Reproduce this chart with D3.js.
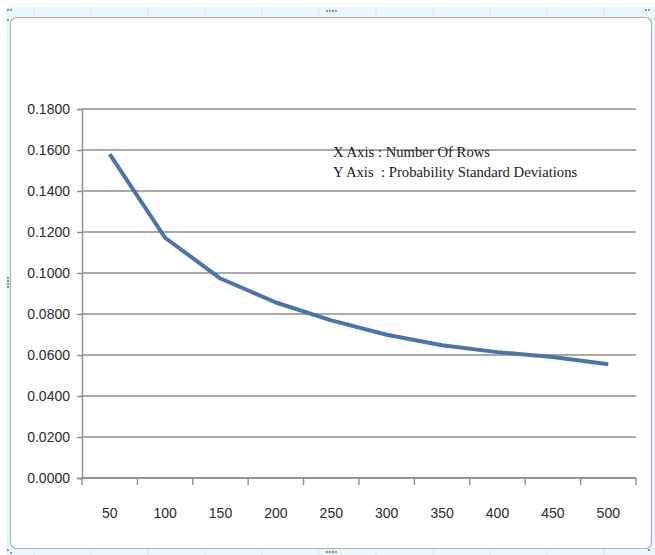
<!DOCTYPE html>
<html>
<head>
<meta charset="utf-8">
<script src="https://cdn.jsdelivr.net/npm/d3@7"></script>
<style>
  html, body { margin: 0; padding: 0; background: #ffffff; }
  svg { display: block; }
</style>
</head>
<body>
<svg id="chart" width="655" height="555"></svg>
<script>
// Number of rows sampled and the resulting probability standard deviation
const rows = [50, 100, 150, 200, 250, 300, 350, 400, 450, 500];
const stdDev = [0.1580, 0.1172, 0.0973, 0.0856, 0.0769, 0.0699, 0.0648, 0.0614, 0.0590, 0.0555];
const yTicks = [0, 0.02, 0.04, 0.06, 0.08, 0.10, 0.12, 0.14, 0.16, 0.18];
const noteLines = ["X Axis : Number Of Rows", "Y Axis\u00a0\u00a0: Probability Standard Deviations"];

const svg = d3.select("#chart");
const W = 655, H = 555;

// Spreadsheet-style surround: pale strip and the chart object frame
svg.append("rect").attr("x", 6).attr("y", 7).attr("width", W - 6).attr("height", H - 7)
  .attr("fill", "#e9f7fb");
const colEdges = [34, 91, 148, 205, 262, 319, 376, 433, 490, 547, 604];
svg.append("g").selectAll("line").data(colEdges).join("line")
  .attr("x1", d => d).attr("x2", d => d).attr("y1", 7).attr("y2", 17)
  .attr("stroke", "#d3e6ec").attr("stroke-width", 1);
svg.append("g").selectAll("line").data(colEdges).join("line")
  .attr("x1", d => d).attr("x2", d => d).attr("y1", 549).attr("y2", 555)
  .attr("stroke", "#d3e6ec").attr("stroke-width", 1);

svg.append("rect").attr("x", 10.5).attr("y", 17.5).attr("width", 641).attr("height", 531)
  .attr("rx", 6).attr("ry", 6)
  .attr("fill", "#ffffff").attr("stroke", "#a9b3b8").attr("stroke-width", 1.2);

// small sizing handles on the frame
const handleDots = (cx, cy, horizontal) => {
  const g = svg.append("g").attr("fill", "#8a9499");
  for (let i = 0; i < 4; i++) {
    g.append("rect")
      .attr("x", horizontal ? cx + i * 3 - 6 : cx - 1)
      .attr("y", horizontal ? cy - 1 : cy + i * 3 - 6)
      .attr("width", 2).attr("height", 2);
  }
};
handleDots(332, 11, true);
handleDots(332, 552, true);
handleDots(8, 283, false);
svg.append("g").attr("fill", "#8a9499").selectAll("rect")
  .data([[7, 9], [10, 9], [7, 19], [645, 9], [648, 9], [7, 549], [10, 552], [648, 549]])
  .join("rect").attr("x", d => d[0]).attr("y", d => d[1]).attr("width", 2).attr("height", 2);

// Plot area
const plot = { left: 82, right: 636, top: 109, bottom: 478 };

const x = d3.scaleBand().domain(rows).range([plot.left, plot.right]).paddingInner(0).paddingOuter(0);
const y = d3.scaleLinear().domain([0, 0.18]).range([plot.bottom, plot.top]);

// Horizontal gridlines
svg.append("g").selectAll("line").data(yTicks).join("line")
  .attr("x1", plot.left).attr("x2", plot.right)
  .attr("y1", d => y(d)).attr("y2", d => y(d))
  .attr("stroke", "#8e8e8e").attr("stroke-width", 1.4);

// Y axis
const yAxis = svg.append("g").attr("transform", `translate(${plot.left},0)`)
  .call(d3.axisLeft(y).tickValues(yTicks).tickFormat(d3.format(".4f")).tickSize(5).tickPadding(7));
yAxis.select(".domain").attr("stroke", "#8e8e8e").attr("stroke-width", 1.4);
yAxis.selectAll(".tick line").attr("stroke", "#8e8e8e").attr("stroke-width", 1.4);
yAxis.selectAll(".tick text")
  .attr("font-family", "'Liberation Sans', Arial, sans-serif")
  .attr("font-size", 14).attr("fill", "#2b2b2b");

// X axis: ticks sit between categories
const xAxisG = svg.append("g").attr("transform", `translate(0,${plot.bottom})`);
xAxisG.append("line").attr("x1", plot.left).attr("x2", plot.right).attr("y1", 0).attr("y2", 0)
  .attr("stroke", "#8e8e8e").attr("stroke-width", 1.4);
const boundaries = rows.map(r => x(r)).concat([x(rows[rows.length - 1]) + x.bandwidth()]);
xAxisG.selectAll("line.tk").data(boundaries).join("line").attr("class", "tk")
  .attr("x1", d => d).attr("x2", d => d).attr("y1", 0).attr("y2", 7)
  .attr("stroke", "#8e8e8e").attr("stroke-width", 1.4);
xAxisG.selectAll("text").data(rows).join("text")
  .attr("x", d => x(d) + x.bandwidth() / 2).attr("y", 40)
  .attr("text-anchor", "middle")
  .attr("font-family", "'Liberation Sans', Arial, sans-serif")
  .attr("font-size", 14).attr("fill", "#2b2b2b")
  .text(d => d);

// Data line (straight segments between points)
const line = d3.line()
  .x((d, i) => x(rows[i]) + x.bandwidth() / 2)
  .y(d => y(d));
svg.append("path").datum(stdDev)
  .attr("d", line)
  .attr("fill", "none").attr("stroke", "#4a74ad").attr("stroke-width", 4)
  .attr("stroke-linejoin", "round");

// Axis description note
svg.append("g").selectAll("text").data(noteLines).join("text")
  .attr("x", 333).attr("y", (d, i) => 157 + i * 20)
  .attr("font-family", "'Liberation Serif', 'Times New Roman', serif")
  .attr("font-size", 14.7).attr("fill", "#1a1a1a")
  .text(d => d);
</script>
</body>
</html>
